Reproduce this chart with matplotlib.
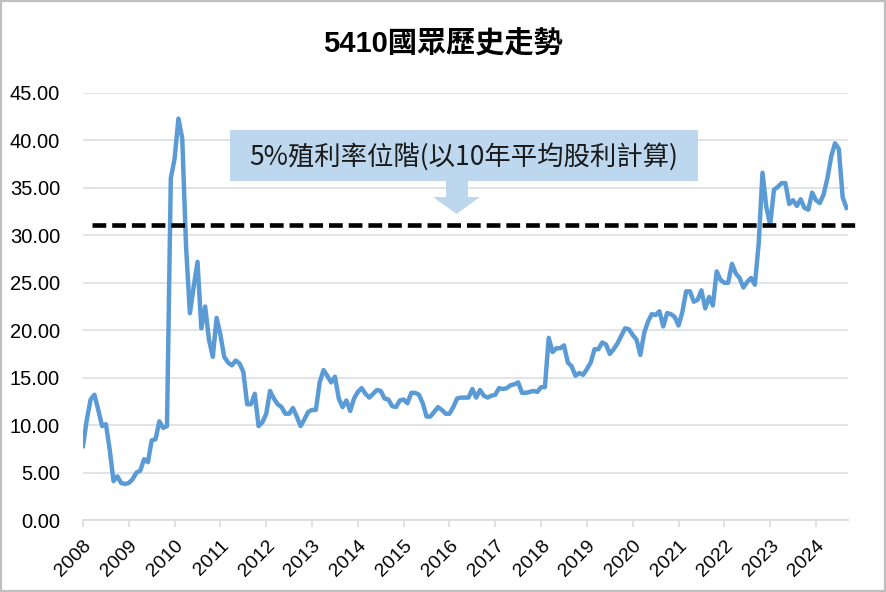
import numpy as np
import pandas as pd
import matplotlib
matplotlib.use("Agg")
import matplotlib.pyplot as plt
from matplotlib.patches import Rectangle, Polygon

# monthly price, Jan 2008 .. Sep 2024
prices = [
    7.8, 10.6, 12.7, 13.2, 11.6, 9.9, 10.1, 7.4, 4.1, 4.6, 3.9, 3.8,        # 2008
    3.9, 4.3, 5.0, 5.2, 6.4, 6.1, 8.4, 8.5, 10.4, 9.7, 9.9, 36.0,           # 2009
    38.1, 42.3, 40.2, 28.8, 21.8, 24.6, 27.2, 20.2, 22.5, 19.0, 17.2, 21.3, # 2010
    19.5, 17.2, 16.6, 16.3, 16.8, 16.5, 15.6, 12.2, 12.2, 13.3, 9.9, 10.3,  # 2011
    11.2, 13.6, 12.8, 12.2, 11.9, 11.2, 11.2, 11.8, 10.9, 9.9, 10.6, 11.4,  # 2012
    11.6, 11.6, 14.5, 15.8, 15.2, 14.5, 15.1, 12.8, 11.9, 12.6, 11.5, 12.8, # 2013
    13.5, 13.9, 13.3, 12.9, 13.3, 13.7, 13.6, 12.8, 12.7, 12.0, 11.9, 12.6, # 2014
    12.7, 12.3, 13.4, 13.4, 13.2, 12.3, 10.9, 10.9, 11.4, 11.9, 11.6, 11.2, # 2015
    11.2, 11.9, 12.8, 12.9, 12.9, 12.9, 13.8, 12.9, 13.7, 13.1, 12.9, 13.1, # 2016
    13.2, 13.9, 13.8, 13.9, 14.2, 14.3, 14.5, 13.4, 13.4, 13.5, 13.6, 13.5, # 2017
    14.0, 14.0, 19.2, 17.7, 18.1, 18.1, 18.4, 16.6, 16.2, 15.2, 15.5, 15.3, # 2018
    15.9, 16.6, 18.0, 18.0, 18.7, 18.5, 17.5, 18.0, 18.6, 19.4, 20.2, 20.1, # 2019
    19.5, 19.0, 17.4, 19.7, 20.9, 21.7, 21.6, 22.0, 20.4, 21.8, 21.7, 21.4, # 2020
    20.5, 21.9, 24.1, 24.1, 23.0, 23.2, 24.2, 22.3, 23.5, 22.6, 26.2, 25.3, # 2021
    25.0, 25.0, 27.0, 26.0, 25.5, 24.5, 25.1, 25.5, 24.8, 29.1, 36.6, 33.0, # 2022
    31.1, 34.8, 35.1, 35.5, 35.5, 33.3, 33.7, 33.1, 33.8, 32.9, 32.7, 34.5, # 2023
    33.7, 33.4, 34.3, 36.0, 38.3, 39.7, 39.1, 34.0, 32.9,                   # 2024
]
start_month = "2008-01"
yield_level = 31.1
y_ticks = np.arange(0, 45.1, 5)

title = "5410國眾歷史走勢"
note = "5%殖利率位階(以10年平均股利計算)"

W, H = 887, 592
LATIN_CJK = ["Liberation Sans", "Noto Sans CJK TC", "DejaVu Sans"]
plt.rcParams["font.family"] = LATIN_CJK


def px(x, y):
    # pixel position -> figure fraction
    return (x / W, 1 - y / H)


dates = pd.date_range(start_month, periods=len(prices), freq="MS")
x = np.arange(len(prices))
tick_pos = np.where(dates.month == 1)[0]
tick_lab = [str(d.year) for d in dates[tick_pos]]

fig = plt.figure(figsize=(W / 100, H / 100), dpi=100)
ax = fig.add_axes([83 / W, 1 - 520 / H, (848 - 83) / W, (520 - 93) / H])

ax.plot(x, prices, color="#5B9BD5", lw=3.2, solid_joinstyle="round", zorder=3)
ax.plot([2.4, 203.5], [yield_level, yield_level], color="black", lw=3.3,
        dashes=(3.0, 1.3), clip_on=False, zorder=4)

ax.set_xlim(0, 200.4)
ax.set_ylim(0, 45)
ax.set_yticks(y_ticks)
ax.set_yticklabels([f"{v:.2f}" for v in y_ticks], fontsize=14.5)
ax.set_xticks(tick_pos)
ax.set_xticklabels(tick_lab, fontsize=14, rotation=45, ha="right",
                   va="top", rotation_mode="anchor")
ax.tick_params(axis="y", length=0, pad=16.5)
ax.tick_params(axis="x", length=5, width=1.2, color="#D9DCE1", pad=7)
ax.grid(axis="y", color="#DDE1E6", lw=1.3, zorder=0)
for s in ["top", "right", "left"]:
    ax.spines[s].set_visible(False)
ax.spines["bottom"].set_color("#D9DCE1")
ax.spines["bottom"].set_linewidth(1.3)

fig.text(*px(443, 44), title, ha="center", va="center", fontsize=21,
         fontweight="bold")

# annotation box with down arrow
box_l, box_t, box_r, box_b = 230, 130, 698, 181
bx, by = px(box_l, box_b)
fig.add_artist(Rectangle((bx, by), (box_r - box_l) / W, (box_b - box_t) / H,
                         transform=fig.transFigure, facecolor="#BDD7EE",
                         edgecolor="none", zorder=5))
arrow = [(446, 181), (468, 181), (468, 197), (480, 197), (456.5, 214),
         (433, 197), (446, 197)]
fig.add_artist(Polygon([px(a, b) for a, b in arrow], closed=True,
                       transform=fig.transFigure, facecolor="#BDD7EE",
                       edgecolor="none", zorder=5))
fig.text(*px((box_l + box_r) / 2, (box_t + box_b) / 2 + 1), note,
         ha="center", va="center", fontsize=19, color="#1A1A1A",
         family=["Noto Sans CJK TC", "DejaVu Sans"], zorder=6)

# outer frame
fig.add_artist(Rectangle((0.001, 0.002), 0.997, 0.996, transform=fig.transFigure,
                         fill=False, edgecolor="#BFBFBF", lw=1.6, zorder=10))

fig.savefig("out.png", dpi=100)
